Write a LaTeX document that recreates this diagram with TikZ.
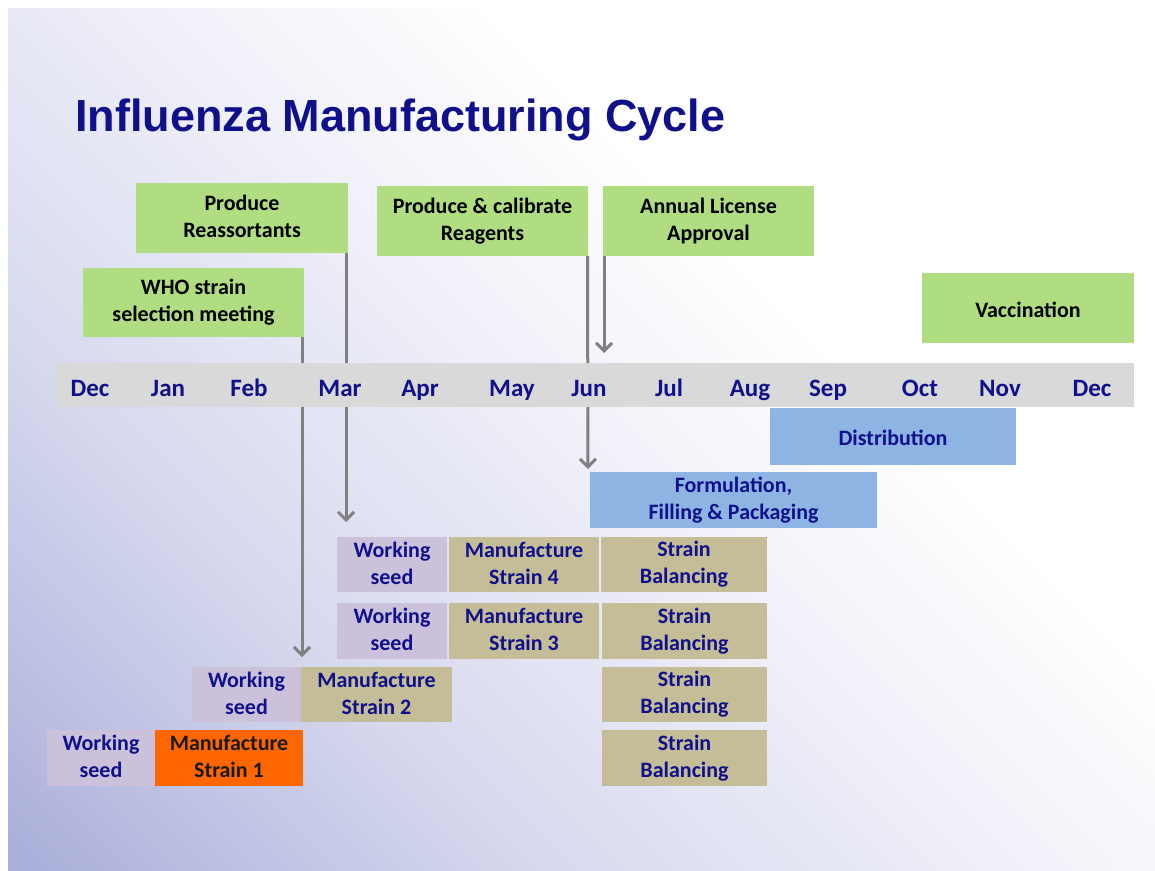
\documentclass[tikz,border=0pt]{standalone}
\usepackage{fontspec}
\setmainfont{Carlito}
\newfontfamily\titlefont{Liberation Sans}
\usetikzlibrary{arrows.meta}
\definecolor{boxgreen}{RGB}{176,220,130}
\definecolor{boxblue}{RGB}{142,180,227}
\definecolor{boxpurple}{RGB}{204,193,218}
\definecolor{boxtan}{RGB}{196,189,151}
\definecolor{boxorange}{RGB}{255,102,0}
\definecolor{bargray}{RGB}{217,217,217}
\definecolor{arrowgray}{RGB}{128,128,128}
\definecolor{navytext}{RGB}{16,16,138}
\definecolor{lav}{RGB}{170,175,218}
\definecolor{lavmid}{RGB}{214,216,238}
\definecolor{lavlight}{RGB}{240,240,249}
\pgfdeclarelayer{back}
\pgfdeclarelayer{mid}
\pgfsetlayers{back,mid,main}
\pgfdeclarehorizontalshading{slidebg}{100bp}{color(0bp)=(lav);color(15bp)=(lav);color(33bp)=(lavmid);color(50bp)=(lavlight);color(62bp)=(white);color(100bp)=(white)}
\newcommand\boxfont{\fontsize{11}{13.5}\selectfont\bfseries}
\newcommand\monthfont{\fontsize{12.5}{15}\selectfont\bfseries}
\newcommand\topstrut{\rule{0pt}{10.7pt}}
\newcommand\botstrut{\rule[-1.3pt]{0pt}{1.3pt}}
\begin{document}
\begin{tikzpicture}[x=0.5pt,y=-0.5pt,
  box/.style={inner sep=0pt, outer sep=0pt, align=center, font=\boxfont, text=navytext,
    execute at begin node=\topstrut, execute at end node=\botstrut},
  greenbox/.style={box, fill=boxgreen, text=black},
  bluebox/.style={box, fill=boxblue},
  seedbox/.style={box, fill=boxpurple},
  tanbox/.style={box, fill=boxtan},
  orangebox/.style={box, fill=boxorange, text=black!90},
  month/.style={anchor=base, font=\monthfont, text=navytext, inner sep=0pt},
  flow/.style={draw=arrowgray, line width=1.5pt, -{Straight Barb[length=4pt,width=8pt,line width=1.5pt]}}]
\useasboundingbox (0,0) rectangle (1155,871);
\begin{pgfonlayer}{back}
\fill[white] (0,0) rectangle (1155,871);
\shade[shading=slidebg, shading angle=45] (8,9) rectangle (1155,870);
\end{pgfonlayer}

% title
\node[anchor=base west, inner sep=0pt, font=\titlefont\fontsize{22.5}{27}\selectfont\bfseries, text=navytext] (title) at (75,132) {Influenza Manufacturing Cycle};

% top green boxes
\node[greenbox, minimum width=110.5pt, minimum height=34.5pt] (who) at (193.5,302.5) {WHO strain\\selection meeting};
\node[greenbox, minimum width=106pt, minimum height=35pt] (reass) at (242,218) {Produce\\Reassortants};
\node[greenbox, minimum width=105.5pt, minimum height=35pt] (reag) at (482.5,221) {Produce \& calibrate\\Reagents};
\node[greenbox, minimum width=105.5pt, minimum height=35pt] (lic) at (708.5,221) {Annual License\\Approval};
\node[greenbox, minimum width=106pt, minimum height=35pt] (vacc) at (1028,308) {Vaccination};

% timeline bar
\node[fill=bargray, inner sep=0pt, minimum width=539.5pt, minimum height=22pt] (bar) at (594.5,385) {};
\node[month] (m1) at (90,396) {Dec};
\node[month] (m2) at (168,396) {Jan};
\node[month] (m3) at (249,396) {Feb};
\node[month] (m4) at (340,396) {Mar};
\node[month] (m5) at (420,396) {Apr};
\node[month] (m6) at (512,396) {May};
\node[month] (m7) at (589,396) {Jun};
\node[month] (m8) at (669,396) {Jul};
\node[month] (m9) at (750,396) {Aug};
\node[month] (m10) at (828,396) {Sep};
\node[month] (m11) at (920,396) {Oct};
\node[month] (m12) at (1000,396) {Nov};
\node[month] (m13) at (1092,396) {Dec};

% blue boxes
\node[bluebox, minimum width=123pt, minimum height=28.5pt] (dist) at (893,436.5) {Distribution};
\node[bluebox, minimum width=143.5pt, minimum height=28pt] (form) at (733.5,500) {Formulation,\\Filling \& Packaging};

% row 4
\node[seedbox, minimum width=55pt, minimum height=27.5pt] (ws4) at (392,564.5) {Working\\seed};
\node[tanbox, minimum width=75pt, minimum height=27.5pt] (mf4) at (524,564.5) {Manufacture\\Strain 4};
\node[tanbox, minimum width=83pt, minimum height=27.5pt] (sb4) at (684,564.5) {Strain\\Balancing};
% row 3
\node[seedbox, minimum width=55pt, minimum height=28pt] (ws3) at (392,631) {Working\\seed};
\node[tanbox, minimum width=75pt, minimum height=28pt] (mf3) at (524,631) {Manufacture\\Strain 3};
\node[tanbox, minimum width=82.5pt, minimum height=28pt] (sb3) at (684.5,631) {Strain\\Balancing};
% row 2
\node[seedbox, minimum width=54.5pt, minimum height=27.5pt] (ws2) at (246.5,694.5) {Working\\seed};
\node[tanbox, minimum width=75.5pt, minimum height=27.5pt] (mf2) at (376.5,694.5) {Manufacture\\Strain 2};
\node[tanbox, minimum width=82.5pt, minimum height=27.5pt] (sb2) at (684.5,694.5) {Strain\\Balancing};
% row 1
\node[seedbox, minimum width=54pt, minimum height=28pt] (ws1) at (101,758) {Working\\seed};
\node[orangebox, minimum width=74pt, minimum height=28pt] (mf1) at (229,758) {Manufacture\\Strain 1};
\node[tanbox, minimum width=82.5pt, minimum height=28pt] (sb1) at (684.5,758) {Strain\\Balancing};

% arrow end points
\coordinate (whoEnd) at (302,657);
\coordinate (reassEnd) at (346,522);
\coordinate (reagEnd) at (588,469);
\coordinate (licEnd) at (604,353);

\begin{pgfonlayer}{mid}
\draw[flow] ([xshift=-1pt]who.south east) -- (whoEnd);
\draw[flow] ([xshift=-1pt]reass.south east) -- (reassEnd);
\draw[flow] ([xshift=-0.25pt]reag.south east) -- (reagEnd);
\draw[flow] ([xshift=0.5pt]lic.south west) -- (licEnd);
\end{pgfonlayer}
\end{tikzpicture}
\end{document}
